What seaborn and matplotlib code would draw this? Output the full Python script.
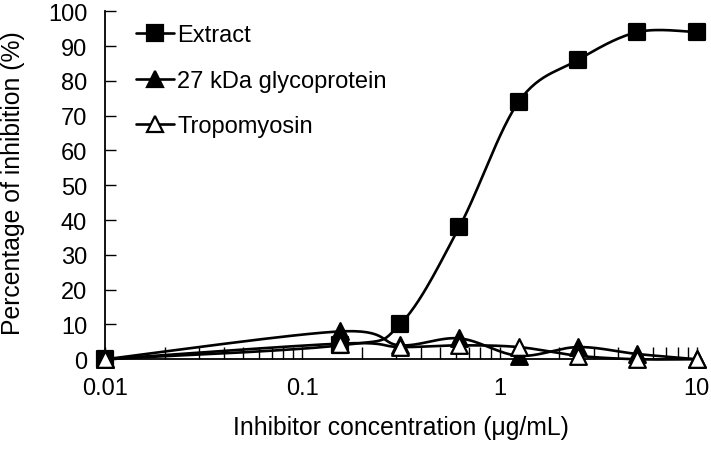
import numpy as np
import pandas as pd
import seaborn as sns
import matplotlib.pyplot as plt
from matplotlib.lines import Line2D
from matplotlib.ticker import LogLocator, FixedLocator, FixedFormatter, NullFormatter

# data (two-fold dilutions, plus the 0.01 start point)
conc = [0.01, 0.156, 0.3125, 0.625, 1.25, 2.5, 5, 10]
extract = [0, 4, 10, 38, 74, 86, 94, 94]
glyco = [0, 8, 4, 6, 1, 3.5, 1.5, 0]
tropo = [0, 4.5, 3.5, 4, 3.5, 1, 0, 0]
series_names = ["Extract", "27 kDa glycoprotein", "Tropomyosin"]
x_ticks = [0.01, 0.1, 1, 10]
x_ticklabels = ["0.01", "0.1", "1", "10"]
y_ticks = list(range(0, 101, 10))

sns.set_style("white")
plt.rcParams['font.family'] = ['Liberation Sans Narrow', 'Liberation Sans', 'DejaVu Sans']
plt.rcParams['text.color'] = 'black'
plt.rcParams['axes.labelcolor'] = 'black'
plt.rcParams['xtick.color'] = 'black'
plt.rcParams['ytick.color'] = 'black'
FS = 17
LFS = 17.8


def smooth(xs, ys, n=30):
    # excel-like smoothed line: catmull-rom in screen-ish space (log x)
    u = np.log10(xs) * 197.0
    v = np.asarray(ys, float) * 3.48
    pts = np.column_stack([u, v])
    pts = np.vstack([pts[0], pts, pts[-1]])
    out = []
    for i in range(1, len(pts) - 2):
        p0, p1, p2, p3 = pts[i - 1], pts[i], pts[i + 1], pts[i + 2]
        c1 = p1 + (p2 - p0) / 6.0
        c2 = p2 - (p3 - p1) / 6.0
        t = np.linspace(0, 1, n)[:, None]
        b = ((1 - t) ** 3) * p1 + 3 * ((1 - t) ** 2) * t * c1 + 3 * (1 - t) * t ** 2 * c2 + t ** 3 * p2
        out.append(b if i == 1 else b[1:])
    out = np.vstack(out)
    return 10 ** (out[:, 0] / 197.0), out[:, 1] / 3.48


fig, ax = plt.subplots(figsize=(7.11, 4.52), dpi=100)
fig.subplots_adjust(left=0.148, right=0.980, bottom=0.203, top=0.973)

styles = [
    dict(marker='s', face='black', size=11),
    dict(marker='^', face='black', size=12),
    dict(marker='^', face='white', size=12),
]
all_y = [extract, glyco, tropo]

for k, (name, ys, st) in enumerate(zip(series_names, all_y, styles)):
    sx, sy = smooth(conc, ys)
    curve = pd.DataFrame({'x': sx, 'y': sy})
    sns.lineplot(data=curve, x='x', y='y', ax=ax, color='black', lw=1.9,
                 sort=False, estimator=None, zorder=2 + k, clip_on=False)

for k, (name, ys, st) in enumerate(zip(series_names, all_y, styles)):
    pts = pd.DataFrame({'x': conc, 'y': ys})
    sns.scatterplot(data=pts, x='x', y='y', ax=ax, marker=st['marker'],
                    s=st['size'] ** 2, color=st['face'], edgecolor='black',
                    linewidth=1.6, zorder=6 + k, clip_on=False)

ax.set_xscale('log')
ax.set_xlim(0.01, 10)
ax.set_ylim(0, 100)

ax.xaxis.set_major_locator(FixedLocator(x_ticks))
ax.xaxis.set_major_formatter(FixedFormatter(x_ticklabels))
ax.xaxis.set_minor_locator(LogLocator(base=10, subs=np.arange(2, 10)))
ax.xaxis.set_minor_formatter(NullFormatter())
ax.set_yticks(y_ticks)

ax.tick_params(axis='both', which='both', direction='in', labelsize=FS,
               color='black', width=1.0, bottom=True, left=True)
ax.tick_params(axis='x', which='both', length=9, pad=13)
ax.tick_params(axis='y', length=8, pad=13)

for side in ['top', 'right']:
    ax.spines[side].set_visible(False)
for side in ['left', 'bottom']:
    ax.spines[side].set_color('black')
    ax.spines[side].set_linewidth(1.3)

ax.set_xlabel("Inhibitor concentration (μg/mL)", fontsize=LFS, labelpad=11)
ax.set_ylabel("Percentage of inhibition (%)", fontsize=LFS)
ax.yaxis.set_label_coords(-0.136, 0.51)

handles = [Line2D([0], [0], color='black', lw=1.9, marker=st['marker'],
                  markersize=st['size'], markerfacecolor=st['face'],
                  markeredgecolor='black', markeredgewidth=1.6)
           for st in styles]
ax.legend(handles, series_names, loc='upper left', bbox_to_anchor=(0.024, 1.01),
          frameon=False, fontsize=FS, handlelength=1.6, handletextpad=0.15,
          labelspacing=1.0, borderaxespad=0.3)

plt.savefig("out.png", dpi=100)
